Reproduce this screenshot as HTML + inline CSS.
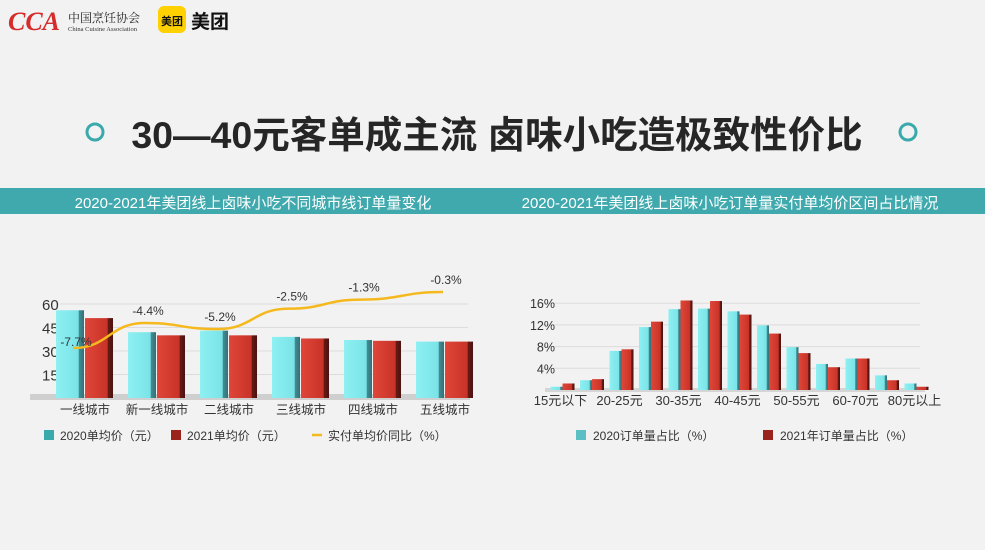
<!DOCTYPE html>
<html><head><meta charset="utf-8"><style>
body{margin:0;width:985px;height:550px;background:#f2f2f2;overflow:hidden;font-family:"Liberation Sans","Noto Sans CJK SC",sans-serif;}
svg{position:absolute;left:0;top:0}
</style></head><body>
<svg id="s" width="985" height="550">
<defs>
<linearGradient id="cy" x1="0" x2="1"><stop offset="0" stop-color="#8ef0f2"/><stop offset="0.8" stop-color="#7ae3e8"/><stop offset="0.82" stop-color="#3f8f95"/><stop offset="1" stop-color="#356f75"/></linearGradient>
<linearGradient id="rd" x1="0" x2="1"><stop offset="0" stop-color="#e0463a"/><stop offset="0.8" stop-color="#c83327"/><stop offset="0.82" stop-color="#6a1a15"/><stop offset="1" stop-color="#4a120f"/></linearGradient>
</defs>
<g>
<text x="8" y="30" font-size="26" font-style="italic" font-weight="bold" fill="#d62b2b" font-family="Liberation Serif,serif">CCA</text>
<text x="68" y="22" font-size="12" fill="#222" font-family="Liberation Serif,Noto Serif CJK SC,serif">中国烹饪协会</text>
<text x="68" y="31" font-size="6.5" fill="#333" font-family="Liberation Serif,serif">China Cuisine Association</text>
</g>
<g>
<rect x="158" y="6" width="28" height="27" rx="6" fill="#ffd100"/>
<text x="172" y="25" font-size="11" text-anchor="middle" fill="#111" font-weight="bold">美团</text>
<text x="191" y="28" font-size="19" fill="#111" font-weight="bold">美团</text>
</g>
<circle cx="95" cy="132" r="8" fill="none" stroke="#3aa9ab" stroke-width="3"/>
<circle cx="908" cy="132" r="8" fill="none" stroke="#3aa9ab" stroke-width="3"/>
<text x="497" y="148" font-size="37.5" font-weight="bold" fill="#262626" text-anchor="middle">30—40元客单成主流 卤味小吃造极致性价比</text>
<rect x="0" y="188" width="985" height="26" fill="#3fa9ad"/>
<text x="253" y="208" font-size="15" fill="#fff" text-anchor="middle">2020-2021年美团线上卤味小吃不同城市线订单量变化</text>
<text x="730" y="208" font-size="15" fill="#fff" text-anchor="middle">2020-2021年美团线上卤味小吃订单量实付单均价区间占比情况</text>
<g id="L"></g><g id="R"></g>
</svg>
<script>
const cities=["一线城市","新一线城市","二线城市","三线城市","四线城市","五线城市"];
const price2020=[56,42,43,39,37,36];
const price2021=[51,40,40,38,36.5,36];
const yoy=[-7.7,-4.4,-5.2,-2.5,-1.3,-0.3];
const yoyLabels=["-7.7%","-4.4%","-5.2%","-2.5%","-1.3%","-0.3%"];
const leftTicks=[15,30,45,60];
const ranges=["15元以下","15-20元","20-25元","25-30元","30-35元","35-40元","40-45元","45-50元","50-55元","55-60元","60-70元","70-80元","80元以上"];
const share2020=[0.6,1.8,7.2,11.6,14.9,15.0,14.5,11.9,7.9,4.8,5.8,2.7,1.2];
const share2021=[1.2,2.0,7.5,12.6,16.5,16.4,13.9,10.4,6.8,4.2,5.8,1.8,0.6];
const rightTicks=[4,8,12,16];
const NS="http://www.w3.org/2000/svg";
function mk(p,t,a){const e=document.createElementNS(NS,t);for(const k in a)e.setAttribute(k,a[k]);p.appendChild(e);return e;}
// left chart
const L=document.getElementById('L');
const ly=v=>398-v*(23.5/15), lx=i=>85+i*72;
const ly2=v=>292+(-0.3-v)*7.57;
leftTicks.forEach(t=>{const g=mk(L,'line',{x1:60,x2:468,y1:ly(t),y2:ly(t),stroke:'#dcdcdc'});

const tx=mk(L,'text',{x:42,y:ly(t)+6,'font-size':15,fill:'#333'});tx.textContent=t;
});
const fl=mk(L,'rect',{x:30,y:394,width:440,height:6,fill:'#cfcfcf'});

cities.forEach((c,i)=>{
 const b1=mk(L,'rect',{x:lx(i)-29,y:ly(price2020[i]),width:28,height:398-ly(price2020[i]),fill:'url(#cy)'});
 
 const b2=mk(L,'rect',{x:lx(i),y:ly(price2021[i]),width:28,height:398-ly(price2021[i]),fill:'url(#rd)'});
 
 const t=mk(L,'text',{x:lx(i),y:414,'font-size':12.5,fill:'#333','text-anchor':'middle'});t.textContent=c;
 
});
const pts=yoy.map((v,i)=>[lx(i)-12+(i==5?10:0),ly2(v)]);
let d='M'+pts[0];for(let i=1;i<pts.length;i++){const p=pts[i-1],q=pts[i],m=(q[0]-p[0])/2;d+=` C${p[0]+m},${p[1]} ${q[0]-m},${q[1]} ${q[0]},${q[1]}`;}
const ln=mk(L,'path',{d:d,fill:'none',stroke:'#f5b91e','stroke-width':2.5});

yoy.forEach((v,i)=>{const t=mk(L,'text',{x:pts[i][0]+(i==0?3:3),y:pts[i][1]-(i==0?2:8),'font-size':12,fill:'#333','text-anchor':'middle'});t.textContent=yoyLabels[i];
 });
// left legend
[[44,'#3aa9ab','2020单均价（元）'],[171,'#9a231c','2021单均价（元）']].forEach(([x,c,s])=>{
 const r=mk(L,'rect',{x:x,y:430,width:10,height:10,fill:c});
 const t=mk(L,'text',{x:x+16,y:440,'font-size':12,fill:'#333'});t.textContent=s;});
const ll=mk(L,'line',{x1:312,x2:322,y1:435,y2:435,stroke:'#f5b91e','stroke-width':2.5});
const lt=mk(L,'text',{x:328,y:440,'font-size':12,fill:'#333'});lt.textContent='实付单均价同比（%）';
// right chart
const R=document.getElementById('R');
const ry=v=>390-v*(21.7/4), rx=i=>563.5+i*29.5;
rightTicks.forEach(t=>{const g=mk(R,'line',{x1:540,x2:920,y1:ry(t),y2:ry(t),stroke:'#dcdcdc'});

const tx=mk(R,'text',{x:555,y:ry(t)+5,'font-size':12.5,fill:'#333','text-anchor':'end'});tx.textContent=t+'%';
});
const fr=mk(R,'rect',{x:545,y:388,width:380,height:4,fill:'#d5d5d5'});
ranges.forEach((c,i)=>{
 const b1=mk(R,'rect',{x:rx(i)-13,y:ry(share2020[i]),width:12,height:390-ry(share2020[i]),fill:'url(#cy)'});
 
 const b2=mk(R,'rect',{x:rx(i)-1,y:ry(share2021[i]),width:12,height:390-ry(share2021[i]),fill:'url(#rd)'});
 
 if(i%2==0){const t=mk(R,'text',{x:rx(i)-3,y:405,'font-size':13,fill:'#333','text-anchor':'middle'});t.textContent=c;
 }
});
[[576,'#5bbfc4','2020订单量占比（%）'],[763,'#9a231c','2021年订单量占比（%）']].forEach(([x,c,s])=>{
 const r=mk(R,'rect',{x:x,y:430,width:10,height:10,fill:c});
 const t=mk(R,'text',{x:x+17,y:440,'font-size':12,fill:'#333'});t.textContent=s;});
</script>
</body></html>
